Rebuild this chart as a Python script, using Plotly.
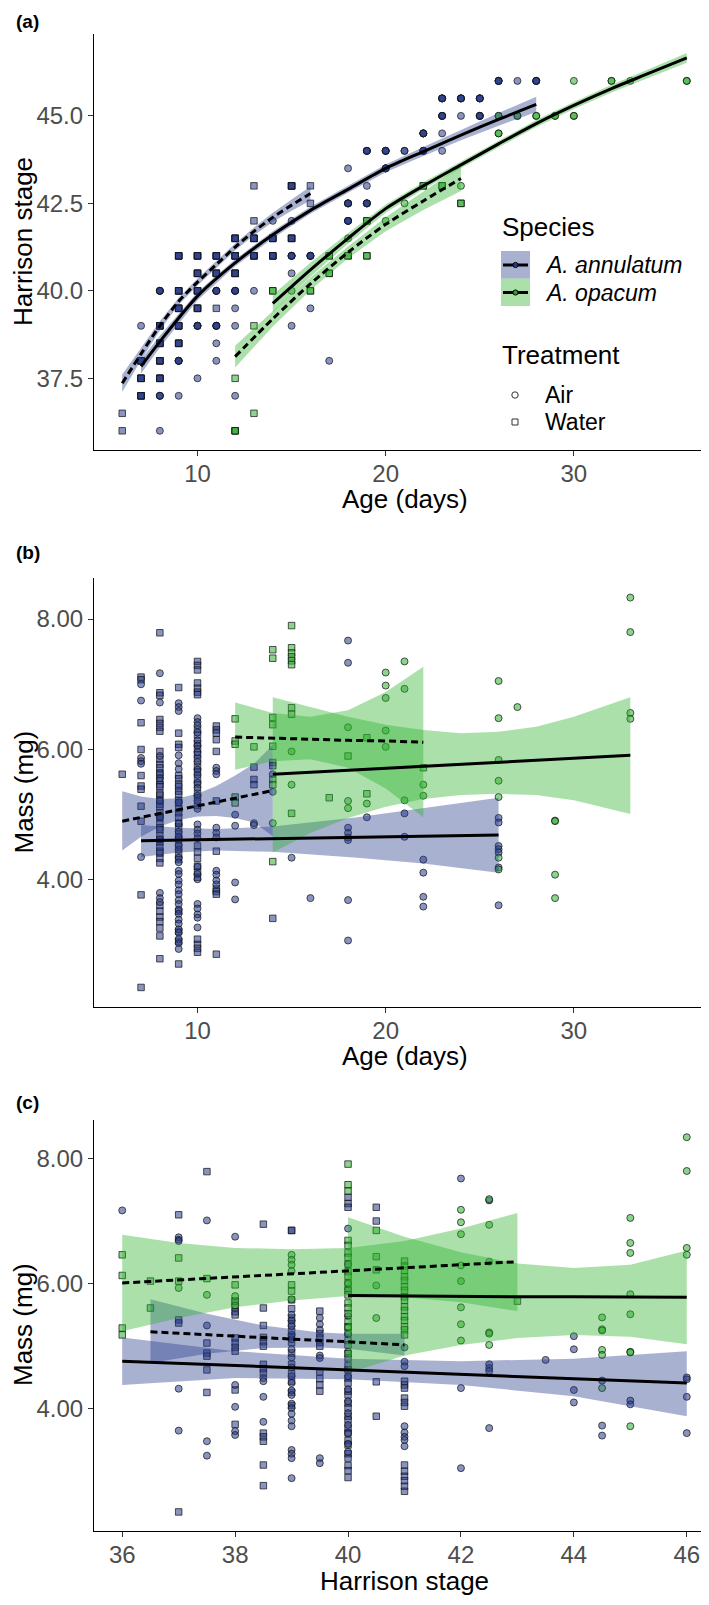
import numpy as np
import plotly.graph_objects as go

W, H = 709, 1605
FONT = "Liberation Sans, Arial, Helvetica, sans-serif"
ANN_RGB = (40, 60, 140)
OPA_RGB = (46, 177, 46)

# ---------------- Panel (a): Harrison stage vs age ----------------
# points: age, stage, number of overlapping individuals
a_ann_air_age = [7, 8, 8, 8, 9, 9, 10, 10, 11, 11, 11, 11, 12, 12, 12, 12, 13, 14, 15, 15, 15, 15,
                 16, 16, 17, 18, 18, 18, 19, 19, 19, 20, 20, 21, 22, 22, 23, 23, 23, 23, 24, 24,
                 25, 25, 26, 27, 28]
a_ann_air_stage = [39, 40, 37, 36, 38, 37, 39, 37.5, 40, 39, 38.5, 38, 40, 39.5, 39, 37, 40, 42, 42, 41,
                   40.5, 39, 41, 39.5, 38, 43.5, 42.5, 42, 44, 43, 42.5, 44, 43.5, 44, 44, 44.5,
                   45.5, 45, 44.5, 44, 45.5, 45, 45.5, 45, 46, 46, 46]
a_ann_air_n = [1, 4, 3, 1, 4, 1, 4, 1, 4, 4, 1, 1, 4, 1, 1, 1, 1, 1, 1, 4, 1, 1, 4, 1, 1, 1, 4, 4,
               4, 1, 4, 4, 4, 2, 4, 4, 4, 4, 1, 1, 4, 1, 4, 4, 4, 1, 4]

a_ann_water_age = [6, 6, 7, 7, 7, 8, 8, 8, 8, 9, 9, 9, 9, 9, 10, 10, 10, 10, 11, 11, 11, 12, 12, 12,
                   13, 13, 13, 13, 14, 14, 15, 15, 16, 16]
a_ann_water_stage = [36.5, 36, 38, 37.5, 37, 39, 38.5, 38, 37.5, 41, 40, 39.5, 39, 38.5, 41, 40.5, 40,
                     39.5, 41, 40.5, 39.5, 41.5, 41, 40.5, 43, 42, 41.5, 41, 41.5, 41, 43, 41.5, 43, 42.5]
a_ann_water_n = [1, 1, 4, 4, 4, 4, 4, 4, 4, 4, 4, 4, 4, 4, 4, 4, 4, 4, 4, 4, 1, 4, 4, 4, 1, 1, 4, 4,
                 4, 4, 4, 4, 1, 1]

a_opa_air_age = [15, 18, 20, 21, 24, 26, 26, 27, 28, 29, 30, 30, 32, 33, 36]
a_opa_air_stage = [40, 41.5, 42, 42.5, 43, 44.5, 45, 45, 45, 45, 45, 46, 46, 46, 46]
a_opa_air_n = [1, 1, 1, 1, 1, 2, 2, 2, 2, 2, 2, 1, 2, 1, 2]

a_opa_water_age = [12, 12, 13, 13, 14, 16, 17, 17, 18, 19, 19, 22, 23, 24]
a_opa_water_stage = [37.5, 36, 39, 36.5, 40, 40, 41, 40.5, 41, 42, 41, 43, 43, 42.5]
a_opa_water_n = [1, 3, 1, 1, 2, 2, 2, 2, 2, 2, 2, 2, 2, 2]

# fitted curves (a): ages, fit, half-width of CI
a_fit_ann_air_age = [7, 8, 10, 12, 14, 16, 18, 20, 22, 24, 26, 28]
a_fit_ann_air = [37.84, 38.55, 39.85, 40.8, 41.6, 42.3, 42.9, 43.5, 43.98, 44.45, 44.9, 45.33]
a_fit_ann_air_hw = [0.2, 0.17, 0.12, 0.1, 0.1, 0.1, 0.1, 0.11, 0.13, 0.15, 0.18, 0.22]

a_fit_ann_water_age = [6, 7, 8, 9, 10, 11, 12, 13, 14, 15, 16]
a_fit_ann_water = [37.36, 38.2, 39.0, 39.7, 40.25, 40.75, 41.25, 41.7, 42.1, 42.45, 42.78]
a_fit_ann_water_hw = [0.25, 0.18, 0.13, 0.1, 0.1, 0.1, 0.1, 0.11, 0.13, 0.16, 0.2]

a_fit_opa_air_age = [14, 16, 18, 20, 22, 24, 26, 28, 30, 32, 34, 36]
a_fit_opa_air = [39.64, 40.6, 41.5, 42.35, 43.0, 43.6, 44.2, 44.78, 45.3, 45.78, 46.22, 46.66]
a_fit_opa_air_hw = [0.25, 0.2, 0.15, 0.12, 0.1, 0.1, 0.1, 0.1, 0.1, 0.11, 0.12, 0.14]

a_fit_opa_water_age = [12, 14, 16, 18, 20, 22, 24]
a_fit_opa_water = [38.12, 39.2, 40.2, 41.1, 41.9, 42.57, 43.21]
a_fit_opa_water_hw = [0.31, 0.22, 0.18, 0.17, 0.2, 0.26, 0.36]

# ---------------- Panel (b): mass vs age ----------------
b_ann_water = {
    6: [5.62],
    7: [7.11, 7.07, 6.41, 6.00, 5.60, 5.44, 5.39, 5.13, 4.90, 3.77, 2.35],
    8: [7.79, 6.87, 6.83, 6.46, 6.40, 6.34, 6.28, 5.97, 5.85, 5.77, 5.72, 5.64, 5.61, 5.52, 5.46,
        5.43, 5.33, 5.30, 5.22, 5.16, 5.12, 5.03, 4.98, 4.95, 4.86, 4.80, 4.77, 4.68, 4.62, 4.58,
        4.50, 4.44, 4.41, 4.33, 4.26, 3.61, 3.52, 3.43, 3.36, 3.26, 3.14, 2.79],
    9: [6.95, 6.25, 6.08, 6.03, 5.60, 5.55, 5.47, 5.43, 5.36, 5.31, 5.22, 5.18, 5.09, 5.03, 4.96,
        4.87, 4.81, 4.70, 4.62, 4.51, 4.40, 4.31, 3.52, 3.21, 3.06, 2.71],
    10: [7.35, 7.29, 7.22, 7.02, 6.94, 6.88, 6.84, 6.31, 6.22, 6.09, 6.01, 5.92, 5.86, 5.74, 5.66,
         5.55, 5.46, 5.33, 5.26, 5.14, 4.52, 4.43, 4.33, 4.21, 4.12, 4.04, 3.09, 3.01, 2.95, 2.89],
    11: [6.36, 6.30, 6.25, 6.15, 5.97, 5.21, 4.44, 3.86, 3.82, 3.78, 2.86],
    13: [5.73, 5.54, 5.46],
    14: [5.80, 5.75, 3.41],
}
b_ann_air = {
    7: [7.00, 6.75, 5.87, 5.82, 5.78, 4.35],
    8: [7.17, 6.72, 5.90, 5.56, 5.21, 4.97, 4.62, 3.80, 3.72, 3.66],
    9: [6.71, 6.65, 6.59, 5.91, 5.79, 5.70, 5.19, 4.86, 4.74, 4.66, 4.53, 4.46, 4.34, 4.27, 4.14,
        4.09, 3.99, 3.93, 3.84, 3.78, 3.69, 3.63, 3.54, 3.48, 3.39, 3.33, 3.24, 3.19, 3.09, 3.03, 2.94],
    10: [6.48, 6.42, 6.37, 6.26, 6.14, 6.06, 5.96, 5.81, 5.69, 5.61, 5.49, 5.41, 5.29, 5.21, 5.09,
         4.85, 4.77, 4.71, 4.64, 4.20, 4.09, 4.01, 3.63, 3.56, 3.47, 3.42, 3.27],
    11: [5.72, 5.67, 5.62, 4.80, 4.72, 4.65, 4.14, 4.08, 3.99, 3.93],
    12: [5.00, 4.83, 3.96, 3.70],
    13: [4.87, 4.84],
    14: [5.62, 5.35],
    15: [4.34],
    16: [3.72],
    18: [7.67, 7.33, 4.80, 4.72, 4.65, 4.61, 3.69, 3.07],
    19: [4.96],
    21: [5.02, 4.66],
    22: [4.31, 4.11, 3.74, 3.59],
    26: [4.95, 4.88, 4.52, 4.47, 4.42, 4.19, 3.61],
}
b_opa_water = {
    12: [6.47, 6.13, 6.08, 5.27, 5.18],
    13: [6.04],
    14: [7.53, 7.40, 6.49, 6.38, 6.05, 5.54, 5.46, 4.28],
    15: [7.90, 7.56, 7.48, 7.42, 7.36, 7.30, 6.64, 6.54, 5.02],
    17: [5.26],
    18: [5.90],
    19: [6.18, 5.32],
    22: [5.72],
}
b_opa_air = {
    14: [4.87],
    15: [5.97, 5.46],
    18: [6.34, 5.21, 5.10],
    19: [5.17],
    20: [7.18, 6.98, 6.79, 6.29, 6.04],
    21: [7.35, 6.93, 5.22],
    22: [5.46, 5.29],
    26: [7.05, 6.48, 5.84, 5.52, 5.27, 4.34, 4.16],
    27: [6.65],
    29: [4.91, 4.90, 4.08, 3.72],
    33: [8.33, 7.80, 6.56, 6.47],
}
# linear fits (b): x, fit, lower, upper
b_fit_ann_air_x = [7, 9, 11, 14, 18.5, 22, 26]
b_fit_ann_air = [4.60, 4.61, 4.62, 4.63, 4.65, 4.67, 4.69]
b_fit_ann_air_lo = [4.35, 4.42, 4.45, 4.43, 4.34, 4.25, 4.11]
b_fit_ann_air_hi = [4.84, 4.80, 4.78, 4.82, 4.96, 5.10, 5.26]

b_fit_ann_water_x = [6, 7, 8, 9, 10, 11, 12, 13, 14]
b_fit_ann_water = [4.90, 4.96, 5.02, 5.08, 5.14, 5.19, 5.25, 5.31, 5.37]
b_fit_ann_water_lo = [4.45, 4.66, 4.82, 4.92, 4.97, 4.98, 4.95, 4.88, 4.67]
b_fit_ann_water_hi = [5.36, 5.28, 5.24, 5.25, 5.32, 5.44, 5.60, 5.78, 6.07]

b_fit_opa_water_x = [12, 14, 16, 18, 20, 22]
b_fit_opa_water = [6.19, 6.17, 6.16, 6.14, 6.13, 6.11]
b_fit_opa_water_lo = [5.69, 5.82, 5.85, 5.72, 5.40, 4.96]
b_fit_opa_water_hi = [6.72, 6.56, 6.50, 6.60, 6.88, 7.27]

b_fit_opa_air_x = [14, 16, 18, 20, 22, 24, 26, 28, 30, 33]
b_fit_opa_air = [5.62, 5.65, 5.68, 5.71, 5.74, 5.77, 5.80, 5.83, 5.86, 5.91]
b_fit_opa_air_lo = [4.42, 4.72, 4.95, 5.12, 5.24, 5.30, 5.32, 5.30, 5.22, 5.01]
b_fit_opa_air_hi = [6.80, 6.65, 6.50, 6.38, 6.30, 6.25, 6.27, 6.35, 6.50, 6.80]

# ---------------- Panel (c): mass vs Harrison stage ----------------
c_ann_air = {
    36: [7.17],
    37: [6.74, 6.70, 6.68, 4.32, 3.65],
    37.5: [7.01, 5.33, 3.48, 3.25],
    38: [6.75, 4.38, 4.03, 3.64, 3.58],
    38.5: [4.49, 4.44, 4.19, 3.79],
    39: [5.50, 5.41, 5.32, 5.18, 5.11, 4.95, 4.82, 4.66, 4.52, 4.41, 4.29, 4.22, 4.08, 4.01, 3.92,
         3.81, 3.72, 3.34, 3.28, 3.21, 2.89],
    39.5: [5.45, 5.35, 5.26, 4.85, 4.81, 3.21, 3.13],
    40: [6.88, 6.31, 5.92, 5.48, 5.19, 4.91, 4.52, 4.31, 4.12, 3.93, 3.74, 3.61, 3.44, 3.31],
    41: [4.98, 4.75, 4.68, 3.72, 3.62, 3.55, 3.50, 3.40],
    42: [7.68, 4.33, 3.05],
    42.5: [7.33, 4.71, 4.65, 4.60, 3.69],
    43.5: [4.78],
    44: [5.16, 4.95, 4.30, 4.10],
    44.5: [4.45, 3.73, 3.57],
    45: [4.13, 4.07],
    46: [4.50, 4.47, 4.19, 3.61],
}
c_ann_water = {
    37: [7.10, 5.42, 5.37, 2.35],
    37.5: [7.79, 5.05, 4.89, 4.84, 4.62, 4.26],
    38: [5.72, 5.62, 5.55, 5.50, 5.13, 5.05, 4.98, 4.92, 4.30, 3.75],
    38.5: [6.95, 5.61, 5.33, 5.14, 5.07, 5.00, 4.71, 4.64, 4.57, 3.61, 3.55, 3.48, 3.10, 2.77],
    39: [6.85, 6.85, 5.74, 5.60, 5.45, 5.36, 5.24, 5.15, 5.06, 4.89, 4.71, 4.56, 4.44, 4.26, 4.05],
    39.5: [5.56, 5.20, 5.13, 5.06, 5.00, 4.59, 4.48, 4.38, 4.28],
    40: [7.38, 7.28, 7.22, 4.81, 4.69, 4.62, 4.49, 4.41, 4.28, 4.22, 4.09, 4.01, 3.88, 3.82, 3.69,
         3.61, 3.49, 3.42, 3.28, 3.21, 3.09, 3.01, 2.90],
    40.5: [7.22, 7.00, 4.43, 3.88],
    41: [4.44, 4.38, 4.33, 4.17, 4.10, 4.04, 3.10, 3.00, 2.92, 2.85, 2.76, 2.68],
}
c_opa_water = {
    36: [6.46, 6.13, 5.29, 5.18],
    36.5: [6.04, 5.61],
    37: [6.41, 6.04],
    37.5: [6.08],
    38: [5.98, 5.72],
    39: [5.98, 5.88],
    40: [7.91, 7.58, 7.48, 6.69, 6.61, 6.49, 6.42, 6.31, 6.19, 6.12, 6.01, 5.89, 5.82, 5.69, 5.61,
         5.52, 5.39, 5.31, 5.21, 5.09, 5.02, 4.88],
    40.5: [6.85, 6.43, 6.22],
    41: [6.36, 6.28, 6.21, 6.11, 6.05, 5.95, 5.89, 5.79, 5.73, 5.63, 5.57, 5.47, 5.41, 5.31, 5.26, 5.18],
    43: [5.72],
}
c_opa_air = {
    37: [5.93],
    37.5: [5.82],
    38: [5.80, 5.65],
    39: [6.46, 6.38, 6.30, 6.20, 5.75],
    40: [6.00, 5.30],
    40.5: [5.97, 5.45],
    42: [7.18, 6.98, 6.79, 6.29, 6.04, 5.62, 5.35, 5.09],
    42.5: [7.35, 6.94, 6.35, 5.22, 5.20, 5.02],
    44.5: [5.46, 5.27, 5.25, 4.94, 4.86, 4.33],
    45: [7.05, 6.65, 6.49, 5.83, 5.51, 4.91, 4.90, 3.72],
    46: [8.34, 7.80, 6.57, 6.46],
}
c_fit_opa_water_x = [36, 37, 38, 39, 40, 41, 42, 43]
c_fit_opa_water = [6.01, 6.06, 6.11, 6.16, 6.21, 6.25, 6.30, 6.35]
c_fit_opa_water_lo = [5.24, 5.45, 5.62, 5.73, 5.80, 5.78, 5.70, 5.56]
c_fit_opa_water_hi = [6.78, 6.65, 6.57, 6.55, 6.57, 6.68, 6.88, 7.13]

c_fit_opa_air_x = [40, 41, 42, 43, 44, 45, 46]
c_fit_opa_air = [5.81, 5.80, 5.80, 5.79, 5.79, 5.78, 5.78]
c_fit_opa_air_lo = [4.57, 4.85, 5.02, 5.13, 5.18, 5.15, 5.03]
c_fit_opa_air_hi = [7.06, 6.75, 6.50, 6.32, 6.25, 6.30, 6.53]

c_fit_ann_water_x = [36.5, 37.5, 38.5, 39.5, 40, 41]
c_fit_ann_water = [5.23, 5.18, 5.14, 5.09, 5.07, 5.02]
c_fit_ann_water_lo = [4.73, 4.88, 4.97, 4.98, 4.96, 4.85]
c_fit_ann_water_hi = [5.75, 5.52, 5.33, 5.22, 5.20, 5.20]

c_fit_ann_air_x = [36, 38, 40, 42, 44, 46]
c_fit_ann_air = [4.76, 4.69, 4.62, 4.55, 4.48, 4.41]
c_fit_ann_air_lo = [4.38, 4.49, 4.47, 4.38, 4.20, 3.88]
c_fit_ann_air_hi = [5.14, 4.92, 4.80, 4.76, 4.80, 4.92]

# ---------------- helpers ----------------
def rgba(c, a):
    return f"rgba({c[0]},{c[1]},{c[2]},{a})"

def expand(d):
    xs, ys = [], []
    for k, vals in d.items():
        for v in vals:
            xs.append(k)
            ys.append(v)
    return xs, ys

def px(xp):
    return xp / W

def py(yp):
    return 1 - yp / H

fig = go.Figure()

def points(x, y, rgb, symbol, ax):
    fig.add_trace(go.Scatter(
        x=x, y=y, mode="markers", xaxis="x" + ax, yaxis="y" + ax, hoverinfo="skip",
        showlegend=False,
        marker=dict(symbol=symbol, size=7 if symbol == "circle" else 6.5,
                    color=rgba(rgb, 0.55), line=dict(color="rgba(20,20,20,0.8)", width=0.9))))

def ribbon(x, lo, hi, rgb, ax):
    fig.add_trace(go.Scatter(
        x=list(x) + list(x)[::-1], y=list(hi) + list(lo)[::-1], mode="lines", fill="toself",
        fillcolor=rgba(rgb, 0.4), line=dict(width=0), xaxis="x" + ax, yaxis="y" + ax,
        hoverinfo="skip", showlegend=False))

def fitline(x, y, dashed, ax, spline=False):
    fig.add_trace(go.Scatter(
        x=x, y=y, mode="lines", xaxis="x" + ax, yaxis="y" + ax, hoverinfo="skip", showlegend=False,
        line=dict(color="black", width=3, dash="7px,4px" if dashed else "solid",
                  shape="spline" if spline else "linear", smoothing=0.8)))

# ---- panel (a) ----
for ages, st, n, rgb, sym in [
        (a_ann_air_age, a_ann_air_stage, a_ann_air_n, ANN_RGB, "circle"),
        (a_ann_water_age, a_ann_water_stage, a_ann_water_n, ANN_RGB, "square"),
        (a_opa_air_age, a_opa_air_stage, a_opa_air_n, OPA_RGB, "circle"),
        (a_opa_water_age, a_opa_water_stage, a_opa_water_n, OPA_RGB, "square")]:
    points(np.repeat(ages, n), np.repeat(st, n), rgb, sym, "")

for ages, fit, hw, rgb in [
        (a_fit_ann_air_age, a_fit_ann_air, a_fit_ann_air_hw, ANN_RGB),
        (a_fit_ann_water_age, a_fit_ann_water, a_fit_ann_water_hw, ANN_RGB),
        (a_fit_opa_air_age, a_fit_opa_air, a_fit_opa_air_hw, OPA_RGB),
        (a_fit_opa_water_age, a_fit_opa_water, a_fit_opa_water_hw, OPA_RGB)]:
    f = np.array(fit)
    h = np.array(hw)
    ribbon(ages, f - h, f + h, rgb, "")
for ages, fit, dashed in [
        (a_fit_ann_air_age, a_fit_ann_air, False),
        (a_fit_ann_water_age, a_fit_ann_water, True),
        (a_fit_opa_air_age, a_fit_opa_air, False),
        (a_fit_opa_water_age, a_fit_opa_water, True)]:
    fitline(ages, fit, dashed, "", spline=True)

# ---- panel (b) ----
for d, rgb, sym in [(b_ann_water, ANN_RGB, "square"), (b_ann_air, ANN_RGB, "circle"),
                    (b_opa_water, OPA_RGB, "square"), (b_opa_air, OPA_RGB, "circle")]:
    xs, ys = expand(d)
    points(xs, ys, rgb, sym, "2")
for x, lo, hi, rgb in [(b_fit_ann_air_x, b_fit_ann_air_lo, b_fit_ann_air_hi, ANN_RGB),
                       (b_fit_ann_water_x, b_fit_ann_water_lo, b_fit_ann_water_hi, ANN_RGB),
                       (b_fit_opa_water_x, b_fit_opa_water_lo, b_fit_opa_water_hi, OPA_RGB),
                       (b_fit_opa_air_x, b_fit_opa_air_lo, b_fit_opa_air_hi, OPA_RGB)]:
    ribbon(x, lo, hi, rgb, "2")
for x, y, dashed in [(b_fit_ann_air_x, b_fit_ann_air, False), (b_fit_ann_water_x, b_fit_ann_water, True),
                     (b_fit_opa_water_x, b_fit_opa_water, True), (b_fit_opa_air_x, b_fit_opa_air, False)]:
    fitline(x, y, dashed, "2")

# ---- panel (c) ----
for d, rgb, sym in [(c_ann_water, ANN_RGB, "square"), (c_ann_air, ANN_RGB, "circle"),
                    (c_opa_water, OPA_RGB, "square"), (c_opa_air, OPA_RGB, "circle")]:
    xs, ys = expand(d)
    points(xs, ys, rgb, sym, "3")
for x, lo, hi, rgb in [(c_fit_ann_air_x, c_fit_ann_air_lo, c_fit_ann_air_hi, ANN_RGB),
                       (c_fit_ann_water_x, c_fit_ann_water_lo, c_fit_ann_water_hi, ANN_RGB),
                       (c_fit_opa_water_x, c_fit_opa_water_lo, c_fit_opa_water_hi, OPA_RGB),
                       (c_fit_opa_air_x, c_fit_opa_air_lo, c_fit_opa_air_hi, OPA_RGB)]:
    ribbon(x, lo, hi, rgb, "3")
for x, y, dashed in [(c_fit_ann_air_x, c_fit_ann_air, False), (c_fit_ann_water_x, c_fit_ann_water, True),
                     (c_fit_opa_water_x, c_fit_opa_water, True), (c_fit_opa_air_x, c_fit_opa_air, False)]:
    fitline(x, y, dashed, "3")

# ---------------- layout ----------------
def axis(**kw):
    d = dict(showline=True, linecolor="black", linewidth=1.1, ticks="outside", ticklen=5,
             tickwidth=1.1, tickcolor="#333333", showgrid=False, zeroline=False, mirror=False,
             tickfont=dict(size=24, color="#4D4D4D", family=FONT))
    d.update(kw)
    return d

XDOM = [px(86), px(707)]
dom_a = [py(441.7), py(26)]
dom_b = [py(999), py(570)]
dom_c = [py(1522.7), py(1111.7)]

fig.update_layout(
    width=W, height=H, margin=dict(l=0, r=0, t=0, b=0),
    plot_bgcolor="white", paper_bgcolor="white", showlegend=False,
    font=dict(family=FONT, color="black"),
    xaxis=axis(domain=XDOM, anchor="y", range=[4.5, 37.5], tickvals=[10, 20, 30],
               ticklabelstandoff=-3),
    yaxis=axis(domain=dom_a, anchor="x", range=[35.46, 47.34], tickvals=[37.5, 40, 42.5, 45],
               ticktext=["37.5", "40.0", "42.5", "45.0"]),
    xaxis2=axis(domain=XDOM, anchor="y2", range=[4.5, 37.5], tickvals=[10, 20, 30],
                ticklabelstandoff=-3),
    yaxis2=axis(domain=dom_b, anchor="x2", range=[2.05, 8.63], tickvals=[4, 6, 8],
                ticktext=["4.00", "6.00", "8.00"]),
    xaxis3=axis(domain=XDOM, anchor="y3", range=[35.5, 46.5], tickvals=[36, 38, 40, 42, 44, 46],
                ticklabelstandoff=-3),
    yaxis3=axis(domain=dom_c, anchor="x3", range=[2.05, 8.62], tickvals=[4, 6, 8],
                ticktext=["4.00", "6.00", "8.00"]),
)

ann = []
def text(t, x, y, size, xanchor="center", angle=0, bold=False, italic=False, color="black"):
    s = t
    if bold:
        s = "<b>" + s + "</b>"
    if italic:
        s = "<i>" + s + "</i>"
    ann.append(dict(text=s, x=px(x), y=py(y), xref="paper", yref="paper", showarrow=False,
                    xanchor=xanchor, yanchor="middle", textangle=angle,
                    font=dict(size=size, family=FONT, color=color)))

# panel letters
text("(a)", 6, 13, 19, xanchor="left", bold=True)
text("(b)", 6, 545, 19, xanchor="left", bold=True)
text("(c)", 6, 1094, 19, xanchor="left", bold=True)
# axis titles
text("Age (days)", 396.5, 491, 26)
text("Age (days)", 396.5, 1048, 26)
text("Harrison stage", 396.5, 1573, 26)
text("Harrison stage", 15, 234, 26, angle=-90)
text("Mass (mg)", 15, 784.5, 26, angle=-90)
text("Mass (mg)", 15, 1317, 26, angle=-90)
# legend texts
text("Species", 492, 219, 26, xanchor="left")
text("A. annulatum", 535, 257, 23, xanchor="left", italic=True)
text("A. opacum", 535, 284.5, 23, xanchor="left", italic=True)
text("Treatment", 492, 347, 26, xanchor="left")
text("Air", 535, 387, 23, xanchor="left")
text("Water", 535, 414, 23, xanchor="left")
fig.update_layout(annotations=ann)

shapes = []
def rect(x0, y0, x1, y1, fill, line=None, lw=0):
    shapes.append(dict(type="rect", xref="paper", yref="paper", x0=px(x0), x1=px(x1),
                       y0=py(y1), y1=py(y0), fillcolor=fill,
                       line=dict(color=line or "rgba(0,0,0,0)", width=lw)))

def circ(cx, cy, r, fill, line, lw):
    shapes.append(dict(type="circle", xref="paper", yref="paper", x0=px(cx - r), x1=px(cx + r),
                       y0=py(cy + r), y1=py(cy - r), fillcolor=fill, line=dict(color=line, width=lw)))

rect(493, 243, 522, 270.5, rgba(ANN_RGB, 0.4))
rect(493, 270.5, 522, 298, rgba(OPA_RGB, 0.4))
for yy in (257, 284.5):
    shapes.append(dict(type="line", xref="paper", yref="paper", x0=px(495), x1=px(520),
                       y0=py(yy), y1=py(yy), line=dict(color="black", width=3)))
circ(507.5, 257, 2.6, rgba(ANN_RGB, 0.9), "black", 1)
circ(507.5, 284.5, 2.6, rgba(OPA_RGB, 0.9), "black", 1)
circ(507, 387, 3.2, "white", "#333333", 1)
rect(504, 411, 510, 417, "white", "#333333", 1)
fig.update_layout(shapes=shapes)

fig.write_html("out.html")
